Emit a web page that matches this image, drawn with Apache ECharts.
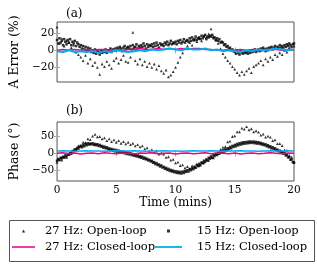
<!DOCTYPE html>
<html>
<head>
<meta charset="utf-8">
<script src="https://cdn.jsdelivr.net/npm/echarts@6/dist/echarts.min.js"></script>
<style>html,body{margin:0;padding:0;background:#fff}#c{width:317px;height:264px}</style>
</head>
<body>
<div id="c"></div>
<script>
// ---------- data ----------
const STEP_DENSE = 0.1;   // minutes between 15 Hz open-loop samples
const STEP_SPARSE = 0.2;  // minutes between 27 Hz open-loop samples
const STEP_CLOSED = 0.5;  // minutes between closed-loop samples

// (a) amplitude error (%)
const errOpen15 = [
  12,8,14,9,11,6,13,10,7,12,
  9,13,6,10,8,11,5,9,7,4,
  6,2,5,1,4,-1,3,0,2,-2,
  0,-3,1,-4,-1,-2,-5,0,-3,-1,
  -2,1,-3,0,-1,2,-2,1,0,2,
  0,3,1,4,2,-1,3,5,1,3,
  4,2,5,1,6,3,4,7,2,5,
  3,6,4,8,5,2,7,4,6,5,
  7,4,8,5,9,6,3,8,6,7,
  5,9,7,10,6,8,11,7,9,8,
  10,7,11,9,12,8,10,13,9,11,
  12,10,14,11,15,12,13,16,12,14,
  15,13,17,14,16,18,13,16,15,17,
  16,18,14,15,12,14,11,13,9,10,
  9,6,7,4,5,2,3,0,1,-1,
  -2,-4,0,-3,-5,-1,-3,-4,-2,-3,
  -2,-4,-1,-3,0,-2,-1,1,-2,0,
  1,-1,2,0,3,1,-1,2,0,3,
  2,4,1,3,5,2,4,3,6,3,
  5,3,6,4,7,5,8,6,4,7,
  8
];
const errOpen27 = [
  27,8,14,5,11,
  9,3,6,-2,-5,
  -8,-12,-6,-15,-10,
  -18,-14,-20,-28,-16,
  -19,-13,-17,-21,-12,
  -9,-15,-11,-6,-13,
  -14,-8,21,-12,-16,
  -10,-17,-13,-19,-15,
  -20,-16,-22,-18,-24,
  -27,-23,-31,-29,-25,
  -20,-14,-8,-3,2,
  5,9,6,12,10,
  14,11,17,15,19,
  25,16,12,8,2,
  -4,-8,-12,-15,-19,
  -22,-26,-29,-25,-28,
  -24,-21,-26,-19,-17,
  -15,-12,-17,-10,-13,
  -8,-11,-5,-7,-3,
  -5,0,-2,3,1,
  5
];
const errClosed27 = [0,1,0,1,0,1,0,1,1,0,1,0,1,1,2,1,1,2,1,2,1,2,1,2,2,1,1,0,0,1,0,1,0,1,1,0,1,1,0,1,0];
const errClosed15 = [-1,-2,0,-2,-1,-2,-1,-3,-1,-2,0,-1,-2,-1,0,-1,1,0,1,2,1,0,2,1,1,2,0,1,-1,0,-1,-2,0,-1,1,0,1,2,1,0,1];

// (b) phase (degrees)
const phaseOpen15 = [
  -22,-17,-19,-13,-15,-10,-12,-6,-9,-2,
  -4,1,1,7,6,12,10,16,14,19,
  22,18,25,21,28,24,30,26,29,27,
  30,25,28,24,27,22,25,20,22,17,
  20,15,18,12,15,10,13,8,11,6,
  10,5,8,3,6,2,5,0,3,-2,
  2,-3,0,-5,-2,-7,-4,-9,-6,-11,
  -8,-13,-10,-16,-13,-18,-16,-21,-19,-24,
  -22,-28,-26,-32,-29,-35,-33,-39,-36,-42,
  -40,-46,-43,-49,-46,-52,-49,-54,-51,-56,
  -53,-58,-54,-59,-55,-60,-54,-58,-52,-55,
  -50,-54,-47,-50,-44,-47,-40,-43,-35,-38,
  -31,-35,-27,-29,-22,-25,-18,-21,-13,-16,
  -9,-13,-5,-8,-2,-5,2,-1,6,3,
  9,5,12,9,15,12,19,15,22,19,
  25,21,28,24,30,26,32,28,33,29,
  34,30,35,31,35,31,35,30,34,29,
  33,28,31,26,29,24,27,21,24,18,
  21,15,18,12,15,9,11,6,8,3,
  5,-1,1,-6,-5,-12,-11,-19,-18,-26,
  -28
];
const phaseOpen27 = [
  -27,-19,-20,-11,-12,
  -3,-1,9,11,22,
  23,33,32,43,41,
  51,56,49,50,43,
  46,38,43,35,40,
  33,38,30,35,28,
  33,26,30,22,26,
  19,22,13,16,7,
  11,3,7,-2,1,
  -2,-12,-10,-20,-18,
  -28,-26,-36,-34,-43,
  -39,-45,-37,-41,-32,
  -36,-27,-28,-19,-21,
  -12,-13,-1,-1,12,
  18,20,34,36,50,
  52,64,64,75,72,
  79,70,73,64,67,
  63,54,57,48,51,
  48,38,40,29,29,
  23,10,9,-6,-11,
  -25
];
const phaseClosed27 = [0,2,-1,1,-2,0,1,-1,2,0,-1,1,0,-2,1,0,2,-1,0,1,-2,0,1,-1,0,2,-1,1,0,-1,1,-2,0,1,-1,0,2,0,-1,1,0];
const phaseClosed15 = [7,8,7,6,7,8,7,7,6,7,8,7,7,8,7,6,7,7,8,7,7,6,7,8,7,7,8,7,6,7,7,8,7,7,6,7,8,7,7,8,7];

const xTicks = [0, 5, 10, 15, 20];
const errTicks = [-20, 0, 20];
const phaseTicks = [-50, 0, 50];
const names = ['27 Hz: Open-loop', '15 Hz: Open-loop', '27 Hz: Closed-loop', '15 Hz: Closed-loop'];

// ---------- chart ----------
const FONT = 'DejaVu Serif';
const MAGENTA = '#ec008c', CYAN = '#00aeef', FRAME = '#555', TICK = '#aaa';
const pairs = (vals, step) => vals.map((v, i) => [+(i * step).toFixed(2), v]);

const GRIDS = [
  { left: 57, top: 22, width: 237, height: 60, show: true, borderColor: FRAME, borderWidth: 1, backgroundColor: 'transparent' },
  { left: 57, top: 122, width: 237, height: 59, show: true, borderColor: FRAME, borderWidth: 1, backgroundColor: 'transparent' }
];

function xAx(gi, pos, labels, name) {
  return {
    type: 'value', gridIndex: gi, position: pos, min: 0, max: 20,
    axisLine: { show: false },
    axisTick: { show: true, inside: true, length: 3, lineStyle: { color: TICK }, customValues: xTicks.slice(1, -1) },
    axisLabel: { show: labels, customValues: xTicks, fontFamily: FONT, fontSize: 10.5, color: '#000', margin: 4 },
    splitLine: { show: false },
    name: name || '', nameLocation: 'middle', nameGap: 16,
    nameTextStyle: { fontFamily: FONT, fontSize: 12, color: '#000' }
  };
}
function yAx(gi, pos, min, max, ticks, labels, name) {
  return {
    type: 'value', gridIndex: gi, position: pos, min: min, max: max,
    axisLine: { show: false },
    axisTick: { show: true, inside: true, length: 3, lineStyle: { color: TICK }, customValues: ticks },
    axisLabel: { show: labels, customValues: ticks, fontFamily: FONT, fontSize: 10.5, color: '#000', margin: 3,
      formatter: v => (v < 0 ? '\u2212' + Math.abs(v) : '' + v) },
    splitLine: { show: false },
    name: name || '', nameLocation: 'middle', nameGap: 33, nameRotate: 90,
    nameTextStyle: { fontFamily: FONT, fontSize: 12.5, color: '#000' }
  };
}

function openSeries(name, sym, size, vals, step, xi, yi) {
  return { name, type: 'scatter', xAxisIndex: xi, yAxisIndex: yi, symbol: sym, symbolSize: size,
    itemStyle: { color: '#000' }, data: pairs(vals, step), z: 2, silent: true, animation: false };
}
function closedSeries(name, color, vals, step, xi, yi, w, z) {
  return { name, type: 'line', xAxisIndex: xi, yAxisIndex: yi, symbol: 'none', showSymbol: false,
    lineStyle: { color, width: w }, itemStyle: { color }, data: pairs(vals, step), z: z, silent: true, animation: false };
}

const LINE_ICON = 'path://M0 0H24V1.6H0Z';
const TRI_ICON = 'path://M1 0L2 1.8L0 1.8Z';
const SQ_ICON = 'path://M0 0H1V1H0Z';
const legendText = pad => ({ fontFamily: FONT, fontSize: 11.5, color: '#000', padding: [0, 0, 0, pad] });

const option = {
  animation: false,
  backgroundColor: '#fff',
  title: [
    { text: '(a)', left: 61, top: 3, textStyle: { fontFamily: FONT, fontSize: 12, fontWeight: 'normal', color: '#000' } },
    { text: '(b)', left: 61, top: 100, textStyle: { fontFamily: FONT, fontSize: 12, fontWeight: 'normal', color: '#000' } }
  ],
  grid: GRIDS,
  xAxis: [ xAx(0, 'bottom', false), xAx(0, 'top', false), xAx(1, 'bottom', true, 'Time (mins)'), xAx(1, 'top', false) ],
  yAxis: [
    yAx(0, 'left', -37, 33, errTicks, true, 'A Error (%)'), yAx(0, 'right', -37, 33, errTicks, false),
    yAx(1, 'left', -82, 93, phaseTicks, true, 'Phase (\u00b0)'), yAx(1, 'right', -82, 93, phaseTicks, false)
  ],
  legend: [
    { orient: 'vertical', left: 12, top: 225, padding: 0, itemGap: 4, itemWidth: 23, itemHeight: 3,
      symbolKeepAspect: true,
      data: [ { name: names[0], icon: TRI_ICON }, { name: names[2], icon: LINE_ICON } ],
      textStyle: legendText(5) },
    { orient: 'vertical', left: 155, top: 225, padding: 0, itemGap: 4, itemWidth: 27, itemHeight: 3,
      symbolKeepAspect: true,
      data: [ { name: names[1], icon: SQ_ICON }, { name: names[3], icon: LINE_ICON } ],
      textStyle: legendText(10) }
  ],
  graphic: [
    { type: 'rect', left: 7, top: 218, shape: { width: 305, height: 41 }, style: { fill: 'none', stroke: FRAME, lineWidth: 1 }, silent: true }
  ],
  series: [
    openSeries(names[0], 'triangle', 2.8, errOpen27, STEP_SPARSE, 0, 0),
    openSeries(names[1], 'rect', 2.5, errOpen15, STEP_DENSE, 0, 0),
    closedSeries(names[2], MAGENTA, errClosed27, STEP_CLOSED, 0, 0, 1.5, 3),
    closedSeries(names[3], CYAN, errClosed15, STEP_CLOSED, 0, 0, 2, 4),
    openSeries(names[0], 'triangle', 2.8, phaseOpen27, STEP_SPARSE, 2, 2),
    openSeries(names[1], 'rect', 2.5, phaseOpen15, STEP_DENSE, 2, 2),
    closedSeries(names[2], MAGENTA, phaseClosed27, STEP_CLOSED, 2, 2, 1.5, 4),
    closedSeries(names[3], CYAN, phaseClosed15, STEP_CLOSED, 2, 2, 1.5, 3)
  ]
};
const chart = echarts.init(document.getElementById('c'), null, { renderer: 'canvas' });
chart.setOption(option);
</script>
</body>
</html>
